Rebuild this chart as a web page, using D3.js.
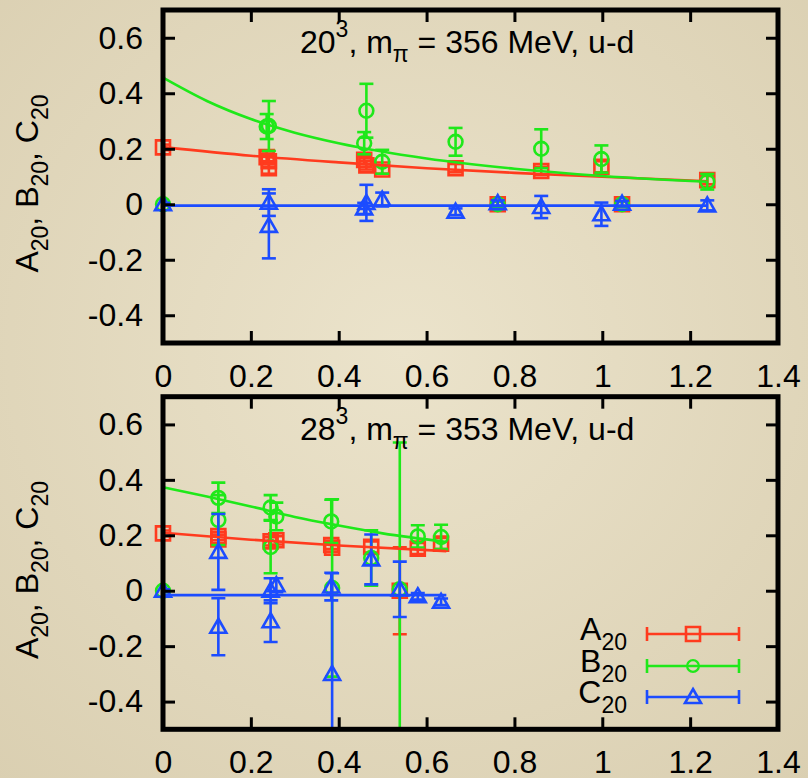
<!DOCTYPE html>
<html>
<head>
<meta charset="utf-8">
<script src="https://cdn.jsdelivr.net/npm/d3@7"></script>
<style>
  body { margin: 0; background: #e2d8bc; }
  svg { display: block; font-family: "Liberation Sans", Arial, Helvetica, sans-serif; }
</style>
</head>
<body>
<div id="chart"></div>
<script>
var width = 808,
    height = 778;

// axis ticks
var xTicks = [0, 0.2, 0.4, 0.6, 0.8, 1, 1.2, 1.4];
var yTicks = [-0.4, -0.2, 0, 0.2, 0.4, 0.6];

// 20^3, m_pi = 356 MeV   -- [Q2, value, error]
var a20_L20 = [[0, 0.205, 0.01], [0.236, 0.17, 0.02], [0.241, 0.155, 0.02], [0.241, 0.13, 0.02],
               [0.458, 0.16, 0.015], [0.463, 0.14, 0.015], [0.499, 0.125, 0.015], [0.666, 0.13, 0.015],
               [0.762, 0.0, 0.01], [0.861, 0.12, 0.015], [0.998, 0.135, 0.02], [1.045, 0.0, 0.01],
               [1.239, 0.087, 0.015]];
var b20_L20 = [[0, 0.0, 0.005], [0.241, 0.282, 0.09], [0.236, 0.28, 0.045], [0.463, 0.337, 0.097],
               [0.458, 0.22, 0.04], [0.499, 0.153, 0.043], [0.666, 0.225, 0.05], [0.762, 0.0, 0.01],
               [0.861, 0.2, 0.07], [0.998, 0.163, 0.049], [1.045, 0.0, 0.01], [1.239, 0.081, 0.028]];
var c20_L20 = [[0, 0.0, 0.005], [0.241, 0.006, 0.048], [0.241, -0.078, 0.117], [0.463, 0.005, 0.065],
               [0.458, -0.015, 0.02], [0.499, 0.017, 0.025], [0.666, -0.027, 0.012], [0.762, 0.004, 0.01],
               [0.861, -0.01, 0.04], [0.998, -0.036, 0.042], [1.045, 0.002, 0.01], [1.239, -0.004, 0.018]];

// fit curves -- [Q2, value]
var fitA_L20 = [[0, 0.206], [0.2, 0.175], [0.4, 0.151], [0.6, 0.13], [0.8, 0.113], [1.0, 0.099], [1.24, 0.083]];
var fitB_L20 = [[0, 0.456], [0.1, 0.372], [0.2, 0.307], [0.3, 0.258], [0.4, 0.22], [0.6, 0.165],
                [0.8, 0.128], [1.0, 0.102], [1.24, 0.081]];
var fitC_L20 = [[0, -0.005], [1.24, -0.005]];

// 28^3, m_pi = 353 MeV
var a20_L28 = [[0, 0.207, 0.01], [0.126, 0.197, 0.015], [0.126, 0.185, 0.015], [0.245, 0.178, 0.015],
               [0.258, 0.182, 0.015], [0.383, 0.165, 0.015], [0.385, 0.155, 0.015], [0.474, 0.158, 0.02],
               [0.539, 0.0, 0.157], [0.58, 0.152, 0.02], [0.633, 0.17, 0.02]];
var b20_L28 = [[0, 0.0, 0.005], [0.126, 0.335, 0.055], [0.126, 0.255, 0.09], [0.245, 0.3, 0.045],
               [0.258, 0.268, 0.05], [0.245, 0.158, 0.095], [0.383, 0.25, 0.078], [0.385, 0.01, 0.32],
               [0.474, 0.118, 0.1], [0.539, 0.005, 0.53], [0.58, 0.196, 0.04], [0.633, 0.194, 0.044]];
var c20_L28 = [[0, 0.0, 0.005], [0.126, 0.14, 0.137], [0.126, -0.13, 0.103], [0.245, 0.0, 0.045],
               [0.258, 0.02, 0.025], [0.245, -0.11, 0.075], [0.383, 0.015, 0.05], [0.385, -0.3, 0.363],
               [0.474, 0.113, 0.09], [0.539, 0.005, 0.1], [0.58, -0.02, 0.012], [0.633, -0.04, 0.012]];

var fitA_L28 = [[0, 0.209], [0.2, 0.184], [0.4, 0.163], [0.645, 0.143]];
var fitB_L28 = [[0, 0.373], [0.1, 0.34], [0.2, 0.304], [0.3, 0.266], [0.4, 0.235], [0.5, 0.207], [0.645, 0.176]];
var fitC_L28 = [[0, -0.016], [0.645, -0.016]];

var legendNames = ['A', 'B', 'C'];
var colors = {A: '#ff3b1e', B: '#1fe81a', C: '#1c4cff'};
var markers = {A: 'square', B: 'circle', C: 'triangle'};

var panels = [
  {size: '20', mpi: '356', top: 10, bottom: 343, A: a20_L20, B: b20_L20, C: c20_L20,
   fitA: fitA_L20, fitB: fitB_L20, fitC: fitC_L20, legend: false},
  {size: '28', mpi: '353', top: 396.7, bottom: 729.3, A: a20_L28, B: b20_L28, C: c20_L28,
   fitA: fitA_L28, fitB: fitB_L28, fitC: fitC_L28, legend: true}
];

var svg = d3.select('#chart').append('svg')
    .attr('width', width)
    .attr('height', height);

// parchment-ish background
var grad = svg.append('defs').append('radialGradient')
    .attr('id', 'bg').attr('cx', '50%').attr('cy', '45%').attr('r', '75%');
grad.append('stop').attr('offset', '0%').attr('stop-color', '#ebe3cb');
grad.append('stop').attr('offset', '100%').attr('stop-color', '#dacfb1');
svg.append('rect').attr('width', width).attr('height', height).attr('fill', 'url(#bg)');

var x = d3.scaleLinear().domain([0, 1.4]).range([163, 778]);

var fmt = function (d) { return d === 0 ? '0' : String(+d.toFixed(1)); };

var triangle = {
  draw: function (ctx) {
    ctx.moveTo(0, -8);
    ctx.lineTo(8, 6);
    ctx.lineTo(-8, 6);
    ctx.closePath();
  }
};
function symbolPath(kind) {
  if (kind === 'square') return d3.symbol(d3.symbolSquare, 196)();
  if (kind === 'circle') return d3.symbol(d3.symbolCircle, 150)();
  return d3.symbol(triangle)();
}

panels.forEach(function (p, i) {
  var y = d3.scaleLinear().domain([-0.5, 0.7]).range([p.bottom, p.top]);
  var g = svg.append('g');

  svg.select('defs').append('clipPath').attr('id', 'clip' + i)
    .append('rect')
    .attr('x', x(0)).attr('y', p.top)
    .attr('width', x(1.4) - x(0)).attr('height', p.bottom - p.top);

  // data points with error bars
  legendNames.forEach(function (k) {
    var col = colors[k];
    var s = g.append('g').attr('stroke', col).attr('stroke-width', 2.6).attr('fill', 'none');
    var bars = s.append('g').attr('clip-path', 'url(#clip' + i + ')');
    bars.selectAll('line.v').data(p[k]).enter().append('line')
      .attr('x1', function (d) { return x(d[0]); })
      .attr('x2', function (d) { return x(d[0]); })
      .attr('y1', function (d) { return y(d[1] - d[2]); })
      .attr('y2', function (d) { return y(d[1] + d[2]); });
    [-1, 1].forEach(function (sgn) {
      bars.selectAll('line.c' + sgn).data(p[k]).enter().append('line')
        .attr('x1', function (d) { return x(d[0]) - 7; })
        .attr('x2', function (d) { return x(d[0]) + 7; })
        .attr('y1', function (d) { return y(d[1] + sgn * d[2]); })
        .attr('y2', function (d) { return y(d[1] + sgn * d[2]); });
    });
    s.selectAll('path').data(p[k]).enter().append('path')
      .attr('d', symbolPath(markers[k]))
      .attr('transform', function (d) { return 'translate(' + x(d[0]) + ',' + y(d[1]) + ')'; });
  });

  // fit curves
  var line = d3.line()
    .x(function (d) { return x(d[0]); })
    .y(function (d) { return y(d[1]); })
    .curve(d3.curveMonotoneX);
  legendNames.forEach(function (k) {
    g.append('path').datum(p['fit' + k])
      .attr('d', line)
      .attr('fill', 'none')
      .attr('stroke', colors[k])
      .attr('stroke-width', 2.6);
  });

  // axes, inward ticks on all four sides
  var axes = [
    {ax: d3.axisLeft(y).tickValues(yTicks).tickFormat(fmt).tickSize(-12).tickPadding(20), tr: [x(0), 0], lab: true},
    {ax: d3.axisRight(y).tickValues(yTicks).tickFormat('').tickSize(-12), tr: [x(1.4), 0]},
    {ax: d3.axisBottom(x).tickValues(xTicks).tickFormat(fmt).tickSize(-12).tickPadding(21), tr: [0, p.bottom], lab: true},
    {ax: d3.axisTop(x).tickValues(xTicks).tickFormat('').tickSize(-12), tr: [0, p.top]}
  ];
  axes.forEach(function (a) {
    var ag = g.append('g')
      .attr('transform', 'translate(' + a.tr[0] + ',' + a.tr[1] + ')')
      .call(a.ax);
    ag.select('.domain').remove();
    ag.selectAll('.tick line').attr('stroke', '#000').attr('stroke-width', 3);
    ag.attr('font-size', 32).attr('font-family', null);
    ag.selectAll('.tick text').attr('fill', '#000');
  });

  // frame
  g.append('rect')
    .attr('x', x(0)).attr('y', p.top)
    .attr('width', x(1.4) - x(0)).attr('height', p.bottom - p.top)
    .attr('fill', 'none').attr('stroke', '#000').attr('stroke-width', 5);

  // y label
  var yl = g.append('text')
    .attr('transform', 'translate(38,' + ((p.top + p.bottom) / 2 + 7) + ') rotate(-90)')
    .attr('text-anchor', 'middle')
    .attr('font-size', 32);
  ['A', 'B', 'C'].forEach(function (k, j) {
    yl.append('tspan').attr('dy', j === 0 ? 0 : -10).text((j === 0 ? '' : ', ') + k);
    yl.append('tspan').attr('dy', 10).attr('font-size', 23).text('20');
  });

  // title
  var t = g.append('text')
    .attr('x', 300).attr('y', p.top + 43)
    .attr('font-size', 32);
  t.append('tspan').text(p.size);
  t.append('tspan').attr('dy', -16).attr('font-size', 23).text('3');
  t.append('tspan').attr('dy', 16).text(', m');
  t.append('tspan').attr('dy', 9).attr('font-size', 23).text('\u03c0');
  t.append('tspan').attr('dy', -9).text(' = ' + p.mpi + ' MeV, u-d');

  // legend
  if (p.legend) {
    var rows = [634, 666, 697];
    legendNames.forEach(function (k, j) {
      var ry = rows[j];
      var lt = g.append('text').attr('x', 627).attr('y', ry + 6)
        .attr('text-anchor', 'end').attr('font-size', 32);
      lt.append('tspan').text(k);
      lt.append('tspan').attr('dy', 10).attr('font-size', 23).text('20');
      var lg = g.append('g').attr('stroke', colors[k]).attr('stroke-width', 2.6).attr('fill', 'none');
      lg.append('line').attr('x1', 647).attr('x2', 739).attr('y1', ry).attr('y2', ry);
      lg.append('line').attr('x1', 647).attr('x2', 647).attr('y1', ry - 7).attr('y2', ry + 7);
      lg.append('line').attr('x1', 739).attr('x2', 739).attr('y1', ry - 7).attr('y2', ry + 7);
      lg.append('path').attr('d', symbolPath(markers[k]))
        .attr('transform', 'translate(693,' + ry + ')' + (k === 'B' ? ' scale(0.85)' : ''));
    });
  }
});
</script>
</body>
</html>
